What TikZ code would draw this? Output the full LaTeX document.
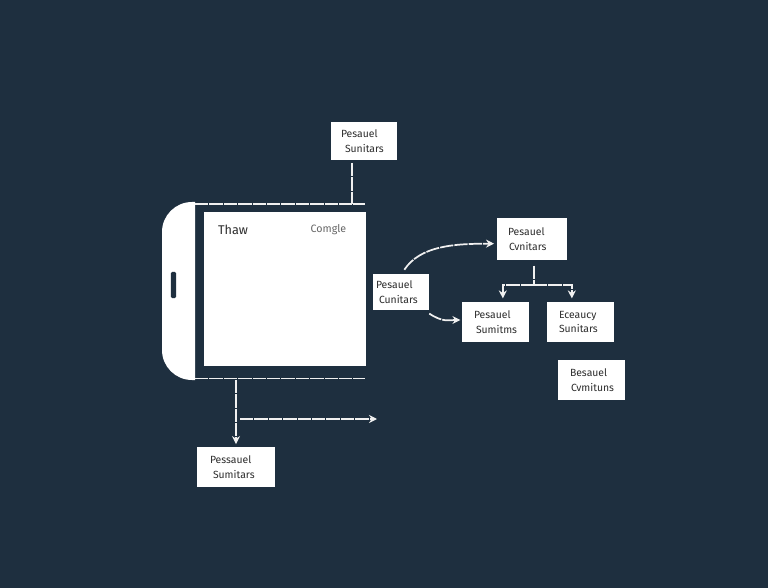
\documentclass[tikz,border=0pt]{standalone}
\usepackage{fontspec}
\setmainfont{Fira Sans}
\usetikzlibrary{arrows.meta, positioning, calc}
\definecolor{mynavy}{RGB}{30,47,63}
\definecolor{myink}{RGB}{45,45,45}

\begin{document}
\begin{tikzpicture}[
    x=0.75pt, y=-0.75pt,
    label_box/.style 2 args={fill=white, text=myink, inner sep=0pt, align=left, font=\fontsize{7.8}{11.2}\selectfont, text width=#1*0.75pt, minimum height=#2*0.75pt},
    dash_line/.style={draw=white!94!black, line width=1.3pt, dash pattern=on 10pt off 0.8pt},
    arrow/.style={dash_line, -{Stealth[length=6pt, width=6pt]}}
]

    % Background and margins
    \fill[mynavy] (0,0) rectangle (768,588);
    \useasboundingbox (0,0) rectangle (768,588);

    % Phone body with its two rails
    \fill[white, rounded corners=22.5pt] (195,202) -- (162,202) -- (162,380) -- (195,380);
    \node[fill=mynavy, rounded corners=1pt, inner sep=0pt, minimum width=4pt, minimum height=19.5pt] (phone_slot) at (173.5,285) {};
    \coordinate (rail_top_l) at (195,204);
    \coordinate (rail_top_r) at (365,204);
    \coordinate (rail_bot_l) at (195,378.5);
    \coordinate (rail_bot_r) at (365,378.5);
    \draw[dash_line] (rail_top_l) -- (rail_top_r);
    \draw[dash_line] (rail_bot_l) -- (rail_bot_r);

    % Screen
    \node[label_box={162}{154}] (screen) at (285,289) {};
    \node[font=\fontsize{9.5}{11}\selectfont, text=myink, inner sep=0pt] (screen_title) at (233,230) {Thaw};
    \node[font=\fontsize{8}{11}\selectfont, text=black!60, inner sep=0pt] (screen_action) at (328.5,230) {Comgle};

    % Label boxes
    \node[label_box={66}{38}] (top_box) at (364,141) {\hspace*{7.5pt}Pesauel\\\hspace*{10.5pt}Sunitars};
    \node[label_box={56}{36}] (source_box) at (401,292) {\hspace*{2.25pt}Pesauel\\\hspace*{4.5pt}Cunitars};
    \node[label_box={70}{42}] (upper_box) at (532,239) {\hspace*{8.25pt}Pesauel\\\hspace*{9pt}Cvnitars};
    \node[label_box={67}{40}] (left_box) at (495.5,322) {\hspace*{9pt}Pesauel\\\hspace*{10.5pt}Sumitms};
    \node[label_box={67}{40}] (right_box) at (580.5,322) {\hspace*{9pt}Eceaucy\\\hspace*{9pt}Sunitars};
    \node[label_box={67}{40}] (lone_box) at (591.5,380) {\hspace*{9pt}Besauel\\\hspace*{9.75pt}Cvmituns};
    \node[label_box={78}{40}] (bottom_box) at (236,467) {\hspace*{9.75pt}Pessauel\\\hspace*{12pt}Sumitars};

    % Top box down to the upper rail
    \draw[dash_line] ([xshift=-9pt, yshift=-2pt]top_box.south) -- ([xshift=-9pt]top_box.south |- rail_top_l);

    % Source box to the upper box and the left box
    \draw[arrow] ([xshift=2.5pt, yshift=3pt]source_box.north) .. controls ++(16,-24) and ++(-40,0) .. ([xshift=-2pt, yshift=-3.5pt]upper_box.west);
    \draw[arrow] ([yshift=-2.5pt]source_box.south east) .. controls ++(14,9) and ++(-12,0) .. ([xshift=-1pt, yshift=1.5pt]left_box.west);

    % Upper box branching to the two lower boxes
    \coordinate (branch) at ([xshift=1.5pt, yshift=12.75pt]upper_box.south |- left_box.north);
    \draw[dash_line] ([xshift=1.5pt, yshift=-4pt]upper_box.south) -- (branch);
    \draw[arrow] (branch) -| ([xshift=5.5pt, yshift=2.5pt]left_box.north);
    \draw[arrow] (branch) -| ([xshift=-6.5pt, yshift=2.5pt]right_box.north);

    % Lower rail down to the bottom box, and the free arrow
    \draw[arrow] ([yshift=-1pt]bottom_box.north |- rail_bot_l) -- ([yshift=2pt]bottom_box.north);
    \coordinate (free_start) at (240,419);
    \coordinate (free_end) at (377,419);
    \draw[arrow] (free_start) -- (free_end);

\end{tikzpicture}
\end{document}
